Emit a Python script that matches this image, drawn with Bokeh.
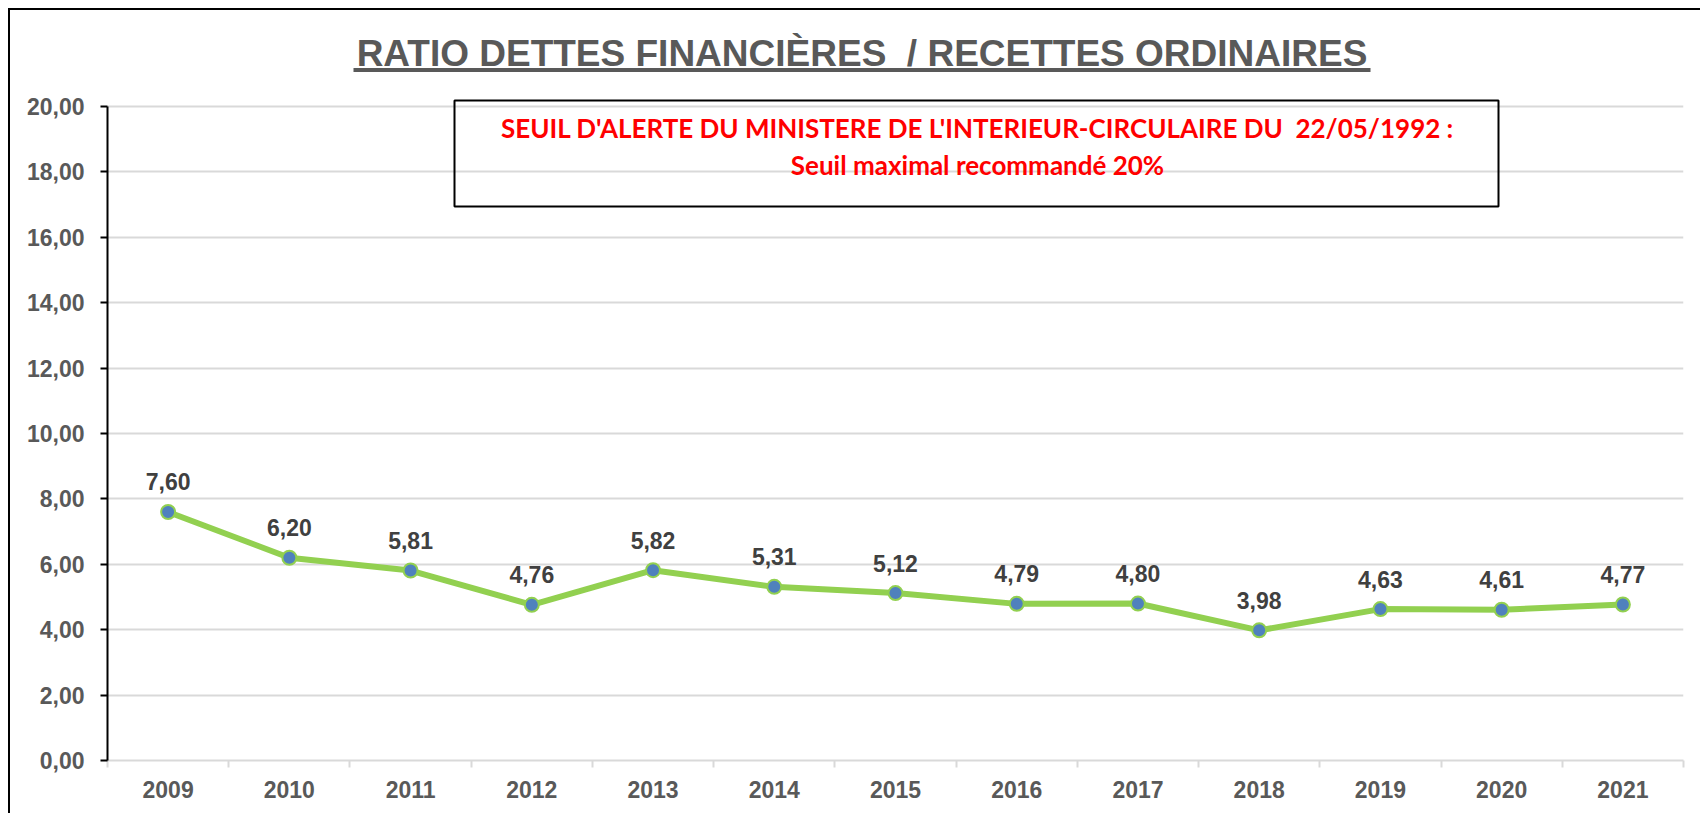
from bokeh.plotting import figure
from bokeh.models import Range1d, FixedTicker, ColumnDataSource, LabelSet, Label, BoxAnnotation
from bokeh.core.properties import value
from bokeh.embed import file_html
from bokeh.resources import INLINE

# ---------------- data ----------------
years = [2009, 2010, 2011, 2012, 2013, 2014, 2015, 2016, 2017, 2018, 2019, 2020, 2021]
ratios = [7.60, 6.20, 5.81, 4.76, 5.82, 5.31, 5.12, 4.79, 4.80, 3.98, 4.63, 4.61, 4.77]
y_ticks = [0, 2, 4, 6, 8, 10, 12, 14, 16, 18, 20]
y_tick_labels = ["0,00", "2,00", "4,00", "6,00", "8,00", "10,00", "12,00", "14,00", "16,00", "18,00", "20,00"]
x_tick_labels = ["2009", "2010", "2011", "2012", "2013", "2014", "2015", "2016", "2017", "2018", "2019", "2020", "2021"]
title_text = "RATIO DETTES FINANCIÈRES\u00a0 / RECETTES ORDINAIRES"
note_line1 = "SEUIL D'ALERTE DU MINISTERE DE L'INTERIEUR-CIRCULAIRE DU\u00a0 22/05/1992 :"
note_line2 = "Seuil maximal recommandé 20%"

# ---------------- layout ----------------
W, H = 1692, 805
FL, FR, FB = 97, 19, 55
frame_w = W - FL - FR
frame_h = H - FB
PX_PER_UNIT = 32.7
y_max = frame_h / PX_PER_UNIT
x0, x1 = years[0] - 0.5, years[-1] + 0.5


def dx(px):
    return x0 + (px - FL) * (x1 - x0) / frame_w


def dy(py):
    return (frame_h - py) / PX_PER_UNIT


GREY_TXT = "#595959"
LBL_TXT = "#404040"
GRID = "#D9D9D9"

p = figure(width=W, height=H, output_backend="svg", toolbar_location=None,
           x_range=Range1d(x0, x1), y_range=Range1d(0, y_max),
           min_border_left=FL, min_border_right=FR, min_border_bottom=FB, min_border_top=0,
           background_fill_color="white", border_fill_color="white")
p.outline_line_color = None
p.styles = {"margin-left": "8px", "margin-top": "8px",
            "border-left": "2px solid black", "border-top": "2px solid black"}

# grids
p.xgrid.grid_line_color = None
p.ygrid.ticker = FixedTicker(ticks=y_ticks)
p.ygrid.grid_line_color = GRID
p.ygrid.grid_line_width = 2

# y axis
p.yaxis.ticker = FixedTicker(ticks=y_ticks)
p.yaxis.bounds = (y_ticks[0], y_ticks[-1])
p.yaxis.major_label_overrides = {t: l for t, l in zip(y_ticks, y_tick_labels)}
p.yaxis.axis_line_color = "black"
p.yaxis.axis_line_width = 2
p.yaxis.major_tick_line_color = "black"
p.yaxis.major_tick_line_width = 2
p.yaxis.major_tick_out = 7
p.yaxis.major_tick_in = 0
p.yaxis.minor_tick_line_color = None
p.yaxis.major_label_text_font = "Liberation Sans"
p.yaxis.major_label_text_font_style = "bold"
p.yaxis.major_label_text_font_size = "23px"
p.yaxis.major_label_text_color = GREY_TXT
p.yaxis.major_label_standoff = 16

# x axis
bounds = [y - 0.5 for y in years] + [years[-1] + 0.5]
p.xaxis.ticker = FixedTicker(ticks=years, minor_ticks=bounds)
p.xaxis.major_label_overrides = {y: l for y, l in zip(years, x_tick_labels)}
p.xaxis.axis_line_color = GRID
p.xaxis.axis_line_width = 2
p.xaxis.major_tick_line_color = None
p.xaxis.major_tick_out = 0
p.xaxis.major_tick_in = 0
p.xaxis.minor_tick_line_color = GRID
p.xaxis.minor_tick_line_width = 2
p.xaxis.minor_tick_out = 7
p.xaxis.minor_tick_in = 0
p.xaxis.major_label_text_font = "Liberation Sans"
p.xaxis.major_label_text_font_style = "bold"
p.xaxis.major_label_text_font_size = "23px"
p.xaxis.major_label_text_color = GREY_TXT
p.xaxis.major_label_standoff = 13

# data
src = ColumnDataSource(dict(x=years, y=ratios, lbl=[f"{v:.2f}".replace(".", ",") for v in ratios]))
p.line("x", "y", source=src, line_color="#92D050", line_width=6)
p.scatter("x", "y", source=src, size=14, fill_color="#4F81BD", line_color="#92D050", line_width=2)
p.add_layout(LabelSet(x="x", y="y", text="lbl", source=src, y_offset=30,
                      text_align="center", text_baseline="middle",
                      text_font=value("Liberation Sans"), text_font_style="bold",
                      text_font_size="23px", text_color=LBL_TXT))

# title
p.add_layout(Label(x=dx(851.5), y=dy(42.5), text=title_text, text_align="center",
                   text_baseline="middle", text_font="Liberation Sans",
                   text_font_style="bold", text_font_size="37px", text_color=GREY_TXT))
p.segment(x0=[dx(343)], y0=[dy(59.5)], x1=[dx(1360)], y1=[dy(59.5)],
          line_color=GREY_TXT, line_width=4)

# note box
p.add_layout(BoxAnnotation(left=dx(444), right=dx(1488), top=dy(90), bottom=dy(196),
                           fill_color=None, fill_alpha=0, line_color="black",
                           line_alpha=1.0, line_width=2))
p.add_layout(Label(x=dx(967), y=dy(117.5), text=note_line1, text_align="center",
                   text_baseline="middle", text_font="Lato", text_font_style="bold",
                   text_font_size="26px", text_color="#FF0000"))
p.add_layout(Label(x=dx(967), y=dy(154), text=note_line2, text_align="center",
                   text_baseline="middle", text_font="Lato", text_font_style="bold",
                   text_font_size="26px", text_color="#FF0000"))

open("out.html", "w").write(file_html(p, INLINE))
